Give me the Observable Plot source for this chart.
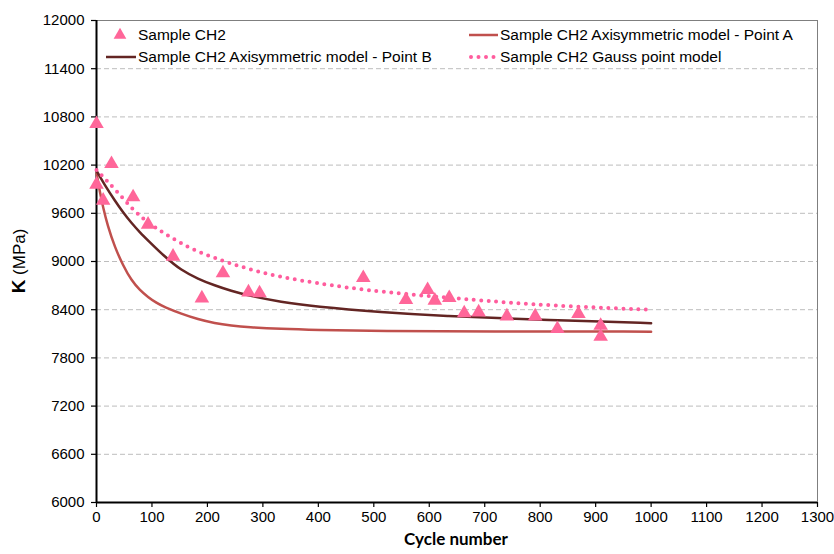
<!DOCTYPE html>
<html>
<head>
<meta charset="utf-8">
<script src="https://cdn.jsdelivr.net/npm/d3@7"></script>
<script src="https://cdn.jsdelivr.net/npm/@observablehq/plot@0.6"></script>
<style>
  html, body { margin: 0; padding: 0; background: #fff; }
  #chart { position: relative; width: 834px; height: 554px; }
</style>
</head>
<body>
<div id="chart"></div>
<script>
// Measured samples (triangles)
const sampleCycles = [0, 0, 12, 27, 66, 93, 138, 190, 228, 274, 294, 481, 558, 597, 610, 636, 663, 689, 740, 791, 831, 869, 909, 909];
const sampleK = [10714, 9959, 9760, 10216, 9801, 9461, 9062, 8543, 8855, 8618, 8606, 8797, 8523, 8648, 8515, 8548, 8357, 8369, 8319, 8319, 8162, 8349, 8203, 8066];

// Model curves
const pointACycles = [0, 6, 12, 20, 33, 48, 63, 78, 93, 108, 123, 153, 183, 213, 243, 273, 333, 393, 513, 700, 1000];
const pointAK = [10100, 9870, 9670, 9450, 9178, 8950, 8764, 8645, 8556, 8485, 8430, 8349, 8280, 8232, 8203, 8182, 8160, 8148, 8133, 8128, 8127];
const pointBCycles = [0, 15, 33, 48, 63, 78, 93, 123, 153, 183, 213, 243, 273, 333, 393, 513, 633, 753, 880, 1000];
const pointBK = [10130, 9950, 9759, 9610, 9480, 9365, 9262, 9060, 8888, 8785, 8701, 8634, 8577, 8494, 8440, 8369, 8320, 8287, 8258, 8232];
const gaussCycles = [0, 33, 69, 96, 123, 153, 183, 243, 303, 393, 513, 693, 813, 1000];
const gaussK = [10140, 9905, 9614, 9470, 9345, 9225, 9116, 8972, 8847, 8730, 8618, 8515, 8452, 8399];

const xTicks = [0, 100, 200, 300, 400, 500, 600, 700, 800, 900, 1000, 1100, 1200, 1300];
const yTicks = [6000, 6600, 7200, 7800, 8400, 9000, 9600, 10200, 10800, 11400, 12000];

const seriesNames = ["Sample CH2", "Sample CH2 Axisymmetric model - Point A", "Sample CH2 Axisymmetric model - Point B", "Sample CH2 Gauss point model"];
const seriesColors = ["#ff6699", "#c0504d", "#632523", "#ff5c9d"];

const samples = sampleCycles.map((c, i) => ({x: c, y: sampleK[i]}));
const pointA = pointACycles.map((c, i) => ({x: c, y: pointAK[i]}));
const pointB = pointBCycles.map((c, i) => ({x: c, y: pointBK[i]}));
const gauss = gaussCycles.map((c, i) => ({x: c, y: gaussK[i]}));

const chart = Plot.plot({
  width: 834,
  height: 554,
  marginLeft: 96,
  marginRight: 17,
  marginTop: 20,
  marginBottom: 52,
  style: {fontFamily: "'Liberation Sans', Arial, sans-serif", fontSize: "15px", color: "#000", background: "#fff"},
  x: {domain: [0, 1300]},
  y: {domain: [6000, 12000]},
  marks: [
    Plot.gridY(yTicks.filter(t => t > 6000 && t < 12000), {stroke: "#bdbdbd", strokeOpacity: 1, strokeDasharray: "5,3", strokeWidth: 1}),
    Plot.frame({stroke: "#7f7f7f", strokeWidth: 1}),
    Plot.axisX({ticks: xTicks, tickSize: 5, tickPadding: 4, tickFormat: "d", label: null, stroke: "#000", strokeWidth: 1.2, fill: "#000"}),
    Plot.axisY({ticks: yTicks, tickSize: 5, tickPadding: 7, tickFormat: "d", label: null, stroke: "#000", strokeWidth: 1.2, fill: "#000"}),
    Plot.ruleX([0], {stroke: "#000", strokeWidth: 2}),
    Plot.ruleY([6000], {stroke: "#000", strokeWidth: 2}),
    Plot.line(pointA, {x: "x", y: "y", stroke: seriesColors[1], strokeWidth: 2.5, curve: "basis"}),
    Plot.line(pointB, {x: "x", y: "y", stroke: seriesColors[2], strokeWidth: 2.5, curve: "basis"}),
    Plot.line(gauss, {x: "x", y: "y", stroke: seriesColors[3], strokeWidth: 4, strokeDasharray: "0,7.5", strokeLinecap: "round", curve: "basis"}),
    Plot.dot(samples, {x: "x", y: "y", symbol: "triangle", r: 5.4, fill: seriesColors[0], stroke: "none"})
  ]
});

const svg = d3.select(chart);

// Axis titles
svg.append("text")
  .attr("x", 456).attr("y", 545)
  .attr("text-anchor", "middle")
  .style("font-family", "Lato, 'Liberation Sans', sans-serif")
  .style("font-weight", "bold")
  .style("font-size", "17px")
  .attr("fill", "#000")
  .text("Cycle number");

const yl = svg.append("text")
  .attr("transform", "translate(25,261) rotate(-90)")
  .attr("text-anchor", "middle")
  .style("font-family", "'Liberation Sans', Arial, sans-serif")
  .attr("fill", "#000");
yl.append("tspan").style("font-weight", "bold").style("font-size", "19px").text("K");
yl.append("tspan").style("font-size", "17px").text(" (MPa)");

// Legend
const lg = svg.append("g")
  .attr("text-anchor", "start")
  .style("font-family", "'Liberation Sans', Arial, sans-serif")
  .style("font-size", "15.5px");
const items = [
  {kind: "tri", x: 120, y: 35, name: seriesNames[0], tx: 138},
  {kind: "line", x1: 469, x2: 498, y: 35, name: seriesNames[1], tx: 500, color: seriesColors[1]},
  {kind: "line", x1: 106, x2: 136, y: 57, name: seriesNames[2], tx: 138, color: seriesColors[2]},
  {kind: "dot", x1: 469, x2: 498, y: 57, name: seriesNames[3], tx: 500, color: seriesColors[3]}
];
items.forEach(it => {
  if (it.kind === "tri") {
    lg.append("path").attr("d", d3.symbol(d3.symbolTriangle, 70)()).attr("transform", `translate(${it.x},${it.y})`).attr("fill", seriesColors[0]);
  } else if (it.kind === "line") {
    lg.append("line").attr("x1", it.x1).attr("x2", it.x2).attr("y1", it.y).attr("y2", it.y).attr("stroke", it.color).attr("stroke-width", 2.5);
  } else {
    lg.append("line").attr("x1", it.x1 + 2).attr("x2", it.x2).attr("y1", it.y).attr("y2", it.y).attr("stroke", it.color).attr("stroke-width", 4).attr("stroke-dasharray", "0,7.5").attr("stroke-linecap", "round");
  }
  lg.append("text").attr("x", it.tx).attr("y", it.y).attr("dy", "0.35em").attr("text-anchor", "start").attr("fill", "#000").text(it.name);
});

document.getElementById("chart").appendChild(chart);
</script>
</body>
</html>
